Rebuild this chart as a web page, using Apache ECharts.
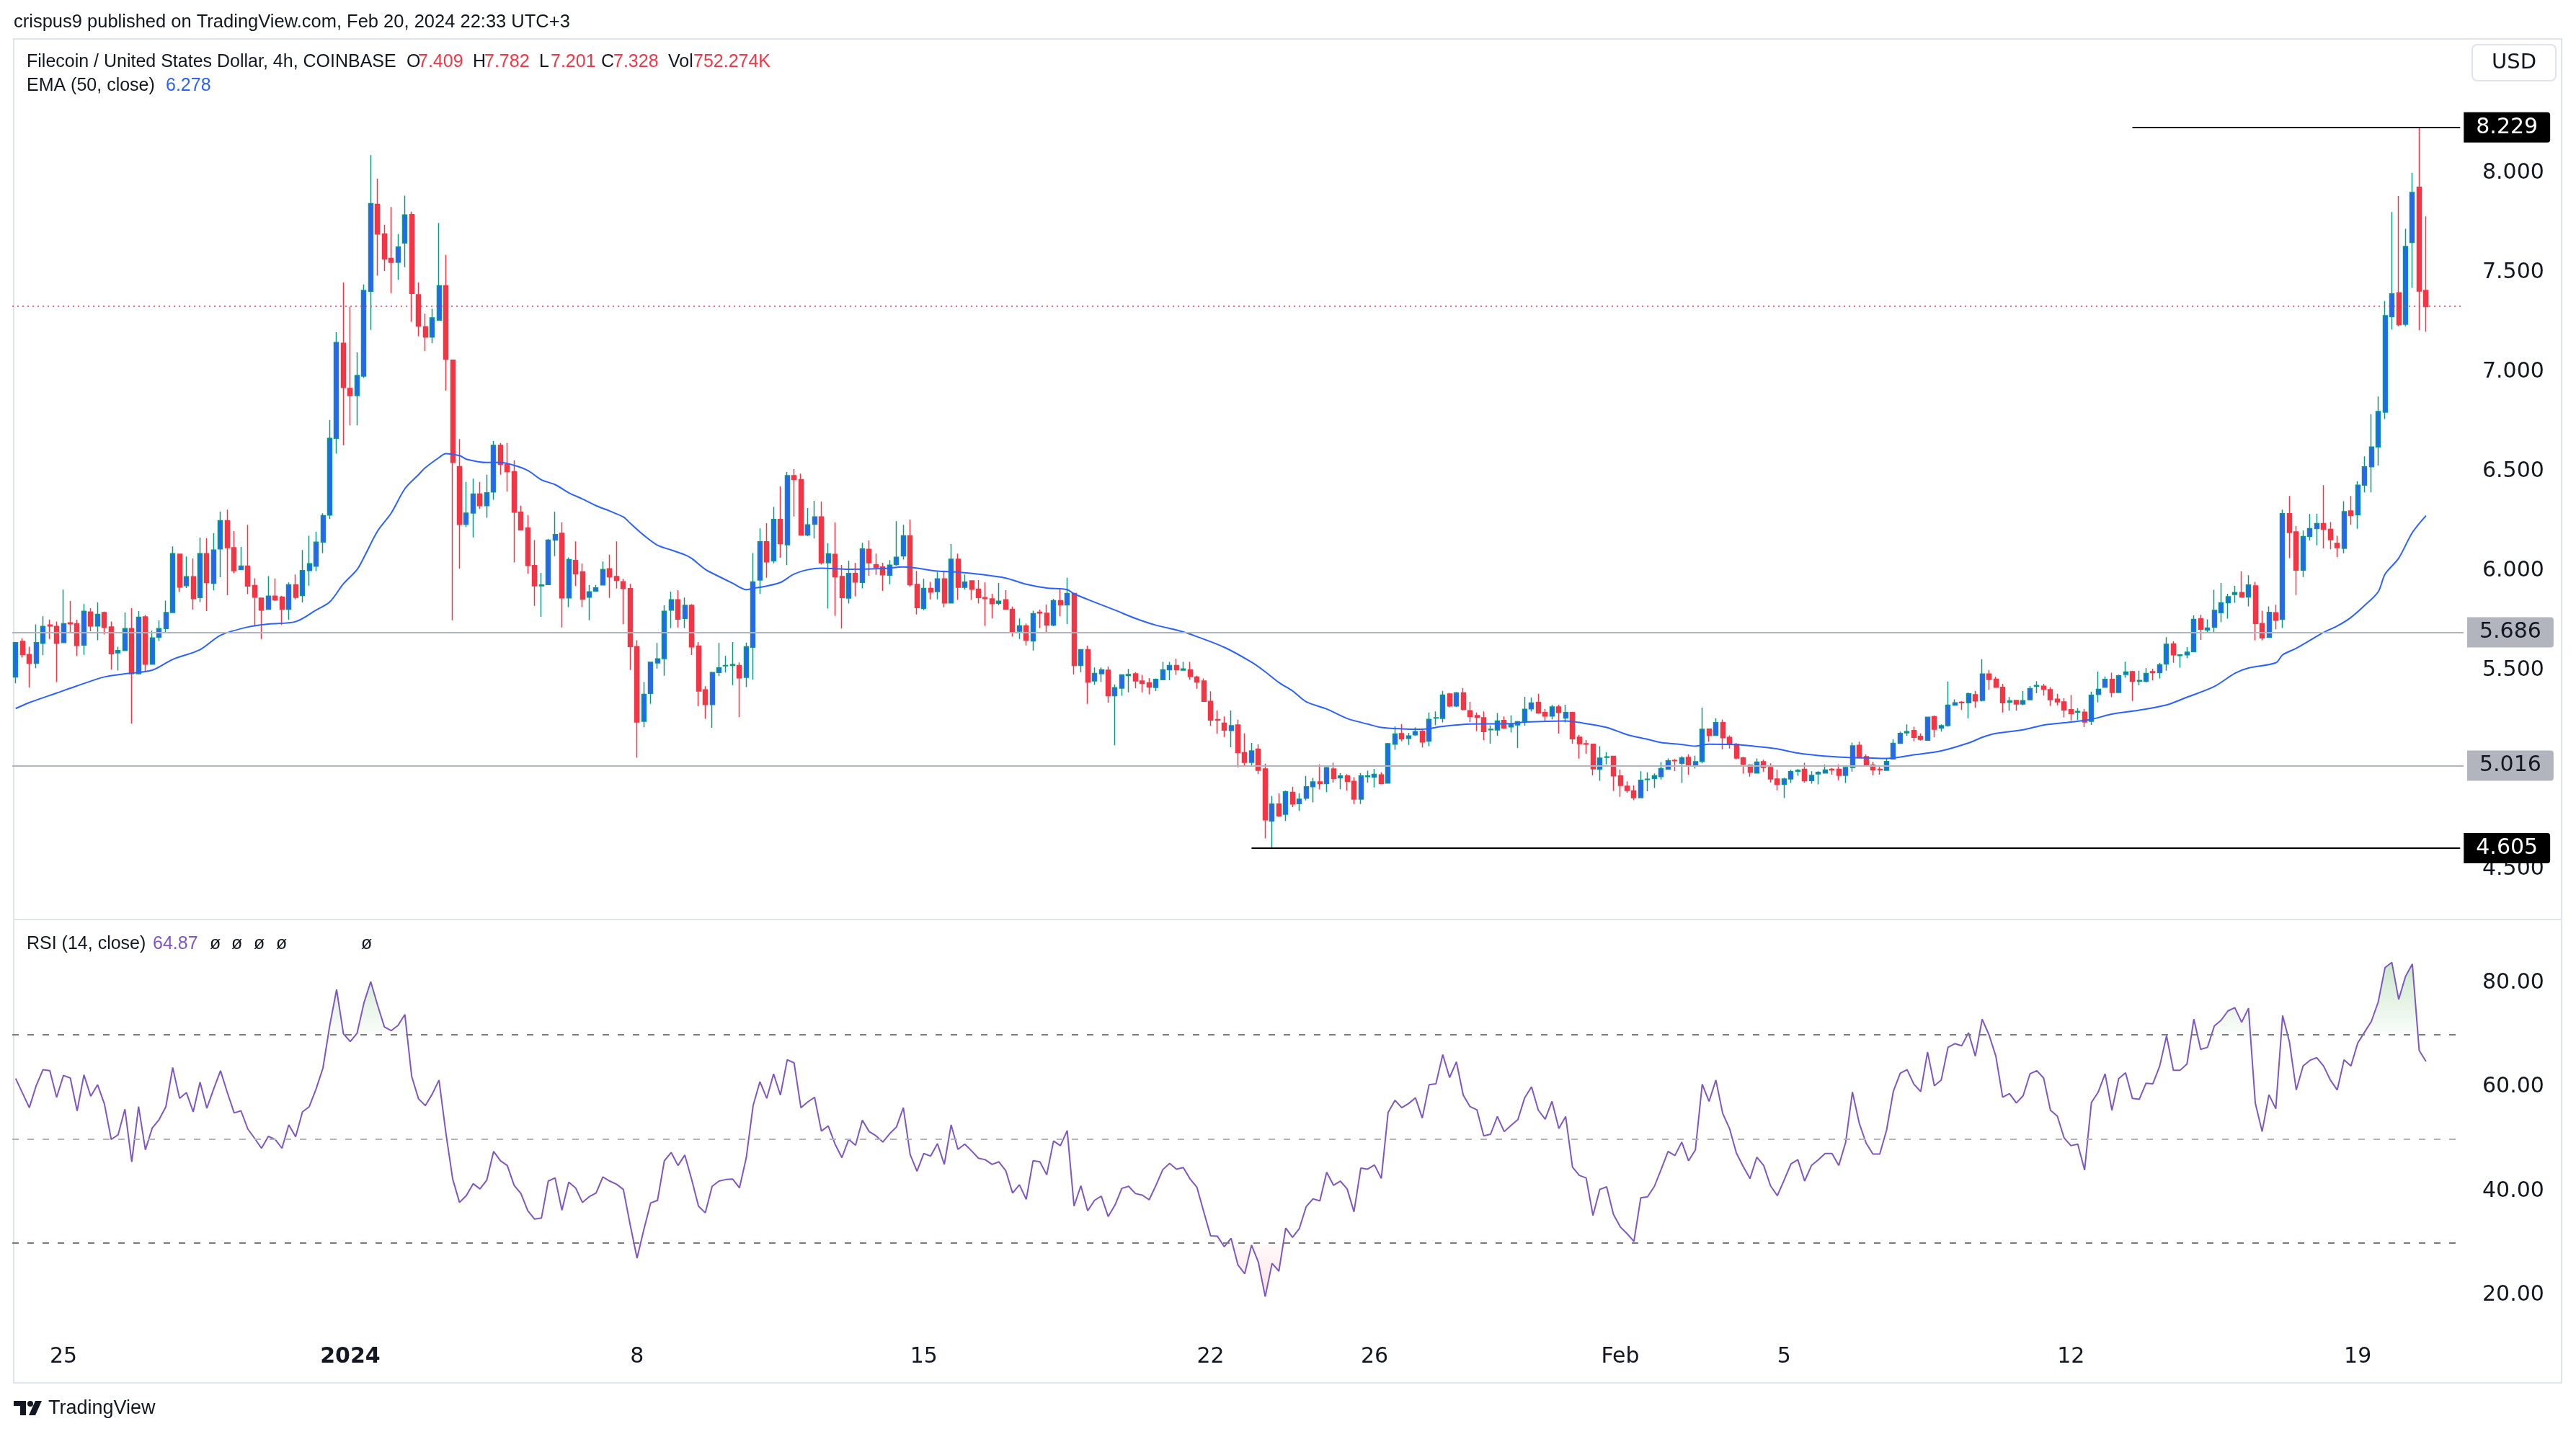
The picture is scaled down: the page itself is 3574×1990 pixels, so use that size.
<!DOCTYPE html>
<html><head><meta charset="utf-8">
<script src="https://cdn.jsdelivr.net/npm/echarts@6/dist/echarts.min.js"></script>
<style>html,body{margin:0;padding:0;background:#fff}#c{width:3574px;height:1990px}</style>
</head><body><div id="c"></div>
<script>
// ---- DATA ----
// 4h candles, [open, high, low, close]
const ohlc = [
[5.466,5.640,5.434,5.639],[5.645,5.659,5.563,5.579],[5.579,5.618,5.412,5.534],[5.534,5.730,5.510,5.639],[5.635,5.771,5.575,5.720],
[5.727,5.754,5.657,5.722],[5.720,5.745,5.440,5.635],[5.639,5.905,5.639,5.734],[5.738,5.848,5.690,5.733],[5.734,5.754,5.572,5.624],
[5.626,5.832,5.577,5.796],[5.793,5.812,5.696,5.722],[5.722,5.841,5.650,5.781],[5.790,5.794,5.679,5.715],[5.717,5.745,5.504,5.582],
[5.587,5.618,5.498,5.599],[5.599,5.790,5.599,5.709],[5.709,5.812,5.231,5.482],[5.482,5.797,5.482,5.766],[5.768,5.778,5.494,5.530],
[5.530,5.699,5.530,5.662],[5.666,5.750,5.647,5.709],[5.709,5.850,5.687,5.790],[5.790,6.122,5.790,6.086],[6.083,6.083,5.893,5.918],
[5.925,6.072,5.913,5.970],[5.970,6.062,5.804,5.860],[5.865,6.167,5.842,6.086],[6.086,6.164,5.797,5.940],[5.937,6.188,5.901,6.104],
[6.110,6.297,5.967,6.252],[6.252,6.307,5.877,6.116],[6.116,6.199,5.987,6.000],[6.005,6.120,6.005,6.024],[6.024,6.231,5.882,5.923],
[5.926,5.962,5.720,5.867],[5.862,5.862,5.657,5.802],[5.806,5.973,5.806,5.872],[5.872,5.961,5.848,5.853],[5.868,5.874,5.727,5.806],
[5.806,5.941,5.754,5.929],[5.929,5.981,5.856,5.866],[5.875,6.104,5.841,6.001],[6.001,6.176,5.925,6.035],[6.023,6.196,5.998,6.144],
[6.144,6.289,6.088,6.277],[6.280,6.758,6.260,6.666],[6.666,7.199,6.589,7.148],[7.144,7.449,6.630,6.921],[6.917,7.327,6.731,6.880],
[6.880,7.098,6.731,6.982],[6.978,7.439,6.969,7.409],[7.405,8.090,7.211,7.846],[7.842,7.972,7.484,7.693],[7.693,7.740,7.506,7.567],
[7.571,7.829,7.396,7.551],[7.551,7.693,7.463,7.628],[7.648,7.886,7.526,7.789],[7.791,7.805,7.252,7.394],[7.388,7.449,7.179,7.230],
[7.226,7.293,7.104,7.175],[7.175,7.317,7.144,7.272],[7.260,7.748,7.256,7.433],[7.433,7.588,6.906,7.063],[7.059,7.059,5.751,6.544],
[6.524,6.662,6.010,6.233],[6.233,6.447,6.219,6.290],[6.290,6.463,6.168,6.386],[6.386,6.447,6.311,6.327],[6.327,6.483,6.266,6.392],
[6.396,6.652,6.357,6.630],[6.630,6.642,6.483,6.534],[6.534,6.642,6.398,6.498],[6.498,6.555,6.042,6.294],[6.294,6.327,6.205,6.205],
[6.215,6.280,5.985,6.026],[6.026,6.154,5.823,5.924],[5.924,5.989,5.768,5.928],[5.930,6.160,5.928,6.154],[6.154,6.296,6.073,6.182],
[6.188,6.243,5.715,5.863],[5.863,6.067,5.817,6.056],[6.052,6.148,5.924,5.985],[5.995,6.036,5.817,5.857],[5.867,5.928,5.751,5.894],
[5.898,5.928,5.894,5.914],[5.928,6.046,5.928,6.006],[6.010,6.081,5.863,5.969],[5.971,6.148,5.910,5.951],[5.945,5.959,5.731,5.910],
[5.910,5.934,5.501,5.619],[5.619,5.650,5.060,5.239],[5.243,5.440,5.213,5.379],[5.383,5.540,5.331,5.540],[5.536,5.637,5.508,5.557],
[5.558,5.826,5.472,5.796],[5.802,5.895,5.711,5.854],[5.854,5.902,5.715,5.756],[5.760,5.865,5.711,5.826],[5.826,5.832,5.576,5.617],
[5.621,5.641,5.319,5.395],[5.401,5.419,5.255,5.327],[5.327,5.492,5.210,5.488],[5.488,5.637,5.470,5.512],[5.522,5.572,5.488,5.524],
[5.524,5.641,5.425,5.528],[5.524,5.539,5.264,5.461],[5.464,5.639,5.415,5.618],[5.615,6.089,5.452,5.944],[5.953,6.213,5.883,6.146],
[6.146,6.239,5.965,6.044],[6.050,6.321,6.037,6.258],[6.258,6.424,6.065,6.136],[6.130,6.496,6.028,6.478],[6.478,6.511,6.273,6.458],
[6.458,6.488,6.179,6.179],[6.179,6.315,6.173,6.231],[6.234,6.351,6.162,6.271],[6.271,6.348,6.031,6.040],[6.040,6.138,5.810,6.085],
[6.082,6.243,5.774,5.969],[5.971,6.029,5.709,5.865],[5.862,6.050,5.835,5.986],[5.986,6.040,5.871,5.943],[5.941,6.140,5.911,6.110],
[6.108,6.152,5.975,6.040],[6.031,6.086,5.979,6.016],[6.019,6.040,5.899,5.979],[5.977,6.053,5.932,6.028],[6.031,6.249,6.025,6.068],
[6.074,6.231,6.056,6.176],[6.176,6.257,5.920,5.929],[5.931,5.999,5.780,5.814],[5.810,5.959,5.802,5.911],[5.911,5.944,5.856,5.892],
[5.895,5.995,5.856,5.959],[5.959,6.001,5.816,5.838],[5.838,6.134,5.838,6.058],[6.058,6.086,5.853,5.917],[5.917,5.981,5.905,5.943],
[5.949,5.949,5.853,5.907],[5.908,5.953,5.835,5.865],[5.865,5.941,5.723,5.860],[5.859,5.884,5.760,5.834],[5.836,5.938,5.826,5.847],
[5.854,5.902,5.806,5.806],[5.806,5.820,5.669,5.693],[5.696,5.760,5.657,5.723],[5.723,5.735,5.624,5.651],[5.647,5.799,5.599,5.784],
[5.792,5.804,5.711,5.787],[5.786,5.830,5.685,5.726],[5.726,5.859,5.721,5.850],[5.850,5.913,5.772,5.828],[5.828,5.965,5.732,5.886],
[5.886,5.886,5.478,5.524],[5.524,5.603,5.490,5.603],[5.603,5.623,5.331,5.440],[5.446,5.514,5.427,5.484],[5.482,5.514,5.440,5.502],
[5.500,5.518,5.337,5.371],[5.371,5.428,5.122,5.412],[5.409,5.478,5.371,5.476],[5.473,5.506,5.389,5.478],[5.482,5.490,5.409,5.446],
[5.446,5.476,5.389,5.434],[5.437,5.460,5.379,5.415],[5.413,5.458,5.395,5.454],[5.452,5.542,5.449,5.502],[5.502,5.542,5.449,5.524],
[5.524,5.558,5.476,5.502],[5.500,5.542,5.497,5.506],[5.502,5.542,5.452,5.467],[5.466,5.473,5.407,5.440],[5.446,5.458,5.343,5.343],
[5.343,5.394,5.219,5.249],[5.252,5.297,5.180,5.249],[5.234,5.267,5.164,5.198],[5.197,5.297,5.112,5.221],[5.225,5.251,5.012,5.086],
[5.086,5.182,5.014,5.036],[5.036,5.134,5.020,5.094],[5.103,5.127,4.977,4.996],[5.004,5.030,4.654,4.747],[4.741,4.868,4.605,4.827],
[4.827,4.880,4.763,4.767],[4.775,4.895,4.742,4.889],[4.886,4.914,4.811,4.827],[4.829,4.881,4.793,4.851],[4.856,4.968,4.845,4.914],
[4.914,4.958,4.835,4.938],[4.938,5.026,4.901,4.929],[4.929,5.014,4.887,5.010],[5.004,5.034,4.935,4.956],[4.958,4.982,4.901,4.968],
[4.968,4.977,4.895,4.941],[4.941,4.962,4.827,4.851],[4.851,4.983,4.827,4.968],[4.965,4.995,4.935,4.968],[4.962,5.004,4.910,4.976],
[4.974,4.986,4.926,4.929],[4.932,5.134,4.932,5.130],[5.128,5.217,5.100,5.179],[5.181,5.229,5.143,5.155],[5.157,5.185,5.124,5.169],
[5.175,5.212,5.169,5.191],[5.193,5.199,5.111,5.139],[5.143,5.287,5.118,5.253],[5.259,5.293,5.223,5.261],[5.257,5.396,5.237,5.375],
[5.380,5.386,5.314,5.320],[5.320,5.390,5.314,5.386],[5.386,5.410,5.296,5.303],[5.296,5.341,5.239,5.267],[5.272,5.287,5.194,5.263],
[5.261,5.293,5.149,5.191],[5.200,5.223,5.130,5.203],[5.199,5.284,5.170,5.245],[5.247,5.267,5.205,5.209],[5.215,5.273,5.187,5.227],
[5.225,5.245,5.109,5.241],[5.243,5.366,5.221,5.303],[5.305,5.362,5.293,5.335],[5.338,5.381,5.281,5.284],[5.287,5.305,5.245,5.269],
[5.269,5.326,5.253,5.315],[5.315,5.326,5.181,5.287],[5.259,5.326,5.237,5.287],[5.287,5.291,5.130,5.155],[5.163,5.175,5.055,5.130],
[5.130,5.149,5.080,5.128],[5.128,5.128,4.971,5.004],[5.002,5.118,4.944,5.058],[5.062,5.088,5.026,5.064],[5.067,5.070,4.893,4.968],
[4.968,5.000,4.863,4.920],[4.917,4.941,4.883,4.895],[4.893,4.920,4.847,4.859],[4.859,4.992,4.859,4.947],[4.950,4.986,4.891,4.952],
[4.956,4.981,4.908,4.969],[4.965,5.038,4.950,5.005],[5.002,5.056,5.002,5.044],[5.046,5.053,4.993,5.044],[5.032,5.068,4.933,5.059],
[5.062,5.077,4.975,5.020],[5.020,5.070,5.005,5.040],[5.041,5.312,5.032,5.203],[5.204,5.204,5.140,5.172],[5.172,5.258,5.170,5.236],
[5.236,5.252,5.101,5.160],[5.162,5.172,5.106,5.126],[5.128,5.134,5.052,5.058],[5.059,5.064,4.980,5.026],[5.023,5.026,4.965,4.986],
[4.983,5.056,4.983,5.038],[5.040,5.050,4.990,5.011],[5.011,5.032,4.935,4.953],[4.953,4.999,4.896,4.926],[4.926,4.959,4.857,4.953],
[4.953,4.999,4.933,4.990],[4.992,5.004,4.969,4.996],[5.002,5.034,4.935,4.944],[4.945,4.992,4.929,4.971],[4.978,4.992,4.926,4.986],
[4.983,5.026,4.981,4.998],[5.002,5.008,4.975,4.998],[5.002,5.026,4.947,4.971],[4.971,5.020,4.933,5.011],[5.011,5.136,4.990,5.120],
[5.122,5.140,5.059,5.059],[5.065,5.076,5.020,5.020],[5.023,5.040,4.971,4.999],[5.002,5.020,4.975,4.999],[4.996,5.056,4.996,5.041],
[5.053,5.152,5.053,5.132],[5.132,5.191,5.132,5.182],[5.185,5.227,5.170,5.191],[5.197,5.216,5.142,5.162],[5.168,5.182,5.146,5.152],
[5.148,5.266,5.144,5.264],[5.266,5.272,5.162,5.203],[5.209,5.227,5.191,5.221],[5.221,5.443,5.216,5.324],[5.324,5.353,5.321,5.336],
[5.339,5.345,5.300,5.336],[5.336,5.389,5.258,5.381],[5.377,5.396,5.312,5.345],[5.348,5.555,5.342,5.481],[5.481,5.501,5.401,5.453],
[5.455,5.467,5.414,5.414],[5.414,5.431,5.287,5.336],[5.339,5.365,5.296,5.345],[5.348,5.348,5.296,5.330],[5.330,5.395,5.323,5.347],
[5.351,5.420,5.348,5.408],[5.419,5.445,5.384,5.423],[5.419,5.431,5.372,5.405],[5.402,5.414,5.321,5.351],[5.354,5.381,5.323,5.341],
[5.341,5.359,5.263,5.300],[5.302,5.375,5.246,5.282],[5.289,5.309,5.249,5.293],[5.289,5.305,5.214,5.239],[5.243,5.392,5.225,5.374],
[5.378,5.493,5.339,5.404],[5.414,5.468,5.412,5.454],[5.454,5.487,5.364,5.388],[5.388,5.478,5.388,5.472],[5.478,5.543,5.462,5.491],
[5.493,5.497,5.345,5.444],[5.444,5.497,5.424,5.448],[5.444,5.511,5.438,5.484],[5.493,5.507,5.448,5.487],[5.487,5.537,5.458,5.527],
[5.531,5.666,5.497,5.630],[5.632,5.646,5.537,5.577],[5.573,5.577,5.513,5.577],[5.577,5.616,5.561,5.591],[5.593,5.775,5.593,5.755],
[5.759,5.779,5.652,5.706],[5.702,5.755,5.690,5.712],[5.716,5.904,5.690,5.801],[5.789,5.938,5.741,5.839],[5.839,5.884,5.759,5.870],
[5.880,5.924,5.839,5.890],[5.890,5.997,5.864,5.868],[5.868,5.977,5.821,5.928],[5.924,5.944,5.650,5.735],[5.735,5.799,5.650,5.662],
[5.666,5.821,5.662,5.791],[5.789,5.829,5.706,5.751],[5.755,6.307,5.712,6.287],[6.287,6.376,6.063,6.192],[6.196,6.225,5.878,6.003],
[6.003,6.202,5.968,6.172],[6.172,6.285,6.152,6.212],[6.212,6.287,6.128,6.237],[6.237,6.430,6.112,6.208],[6.208,6.245,6.108,6.156],
[6.138,6.176,6.069,6.116],[6.112,6.350,6.087,6.297],[6.301,6.376,6.231,6.277],[6.281,6.450,6.211,6.430],[6.430,6.575,6.394,6.523],
[6.523,6.787,6.394,6.622],[6.622,6.876,6.529,6.801],[6.797,7.356,6.763,7.283],[7.277,7.803,7.213,7.392],[7.398,7.884,7.229,7.237],
[7.239,7.719,7.229,7.630],[7.650,8.001,7.422,7.902],[7.928,8.229,7.209,7.406],[7.409,7.782,7.201,7.328]
];

// EMA(50): [candle index, value]
const emaPoints = [
[0,5.307],[2,5.337],[6,5.385],[9,5.421],[13,5.466],[16,5.482],[20,5.500],[23,5.554],[27,5.603],[30,5.675],[34,5.717],[37,5.732],
[41,5.744],[44,5.802],[46,5.843],[48,5.934],[50,6.006],[51,6.067],[53,6.199],[55,6.290],[57,6.412],[59,6.483],[60,6.518],[62,6.569],
[63,6.589],[65,6.579],[66,6.561],[69,6.544],[71,6.544],[73,6.530],[75,6.504],[77,6.457],[79,6.433],[81,6.392],[83,6.361],[85,6.327],
[87,6.300],[89,6.270],[90,6.239],[92,6.178],[94,6.128],[96,6.104],[98,6.080],[99,6.062],[101,6.007],[103,5.971],[105,5.937],[107,5.905],
[108,5.911],[110,5.923],[112,5.941],[114,5.983],[116,6.005],[118,6.013],[122,6.007],[127,6.011],[130,6.019],[135,5.998],[138,5.993],
[141,5.983],[145,5.963],[148,5.932],[151,5.913],[154,5.905],[155,5.884],[158,5.842],[161,5.802],[164,5.760],[167,5.726],[170,5.702],
[172,5.681],[177,5.615],[181,5.540],[183,5.492],[185,5.438],[187,5.396],[189,5.341],[192,5.305],[195,5.257],[198,5.229],[200,5.212],
[203,5.205],[206,5.203],[209,5.217],[213,5.229],[219,5.231],[221,5.239],[227,5.245],[229,5.237],[233,5.212],[236,5.176],[239,5.152],
[241,5.136],[244,5.126],[246,5.118],[248,5.128],[252,5.126],[255,5.116],[258,5.104],[261,5.083],[264,5.071],[268,5.062],[271,5.059],
[274,5.056],[278,5.074],[282,5.094],[286,5.134],[288,5.162],[290,5.182],[294,5.200],[297,5.224],[301,5.239],[304,5.253],[307,5.279],
[311,5.299],[315,5.325],[318,5.364],[322,5.418],[325,5.484],[327,5.511],[331,5.537],[332,5.577],[334,5.610],[336,5.650],[338,5.690],
[340,5.722],[342,5.765],[344,5.825],[346,5.894],[347,5.983],[349,6.063],[351,6.192],[353,6.277]
];

// RSI(14) per candle
const rsi = [
61.6,58.8,56.0,60.2,63.3,63.1,58.0,62.2,61.7,55.4,62.3,58.2,60.4,56.7,49.9,50.8,55.7,45.6,56.2,47.9,
52.1,53.7,56.2,63.7,57.8,58.9,55.2,60.9,55.9,59.6,63.1,58.9,55.0,55.4,51.9,50.1,48.2,50.5,49.9,48.2,
52.7,50.4,55.2,56.2,59.6,63.6,71.8,78.7,70.2,68.7,70.3,76.1,80.2,75.7,71.5,70.8,71.8,73.9,62.0,57.7,
56.4,58.6,61.3,51.2,42.3,37.8,39.1,41.4,40.4,42.1,47.6,45.8,44.9,41.1,39.5,36.2,34.6,34.8,41.9,42.5,
36.3,41.7,40.6,37.8,38.9,39.6,42.7,41.9,41.3,40.3,33.5,27.1,32.6,37.7,38.2,45.8,47.4,44.9,46.9,42.2,
37.1,35.8,40.9,41.9,42.2,42.3,40.6,46.4,56.4,61.0,57.8,62.5,58.4,65.2,64.6,56.0,57.1,58.0,51.5,52.5,
49.0,46.4,49.9,48.8,53.6,51.4,50.6,49.4,51.0,52.3,
56.0,47.0,43.8,47.2,46.7,49.1,45.1,52.7,48.0,49.0,47.7,46.3,46.0,45.1,45.6,43.9,39.6,41.2,38.4,45.8,
45.6,43.1,49.6,48.7,51.6,37.1,41.0,36.2,38.2,39.0,35.1,37.3,40.5,40.9,39.5,39.2,38.3,41.1,44.1,45.3,
44.2,44.5,42.3,40.7,36.0,31.4,31.3,29.3,30.9,25.8,24.1,29.6,26.3,19.7,26.1,24.6,32.9,31.1,32.8,37.0,
38.5,38.1,43.6,41.1,41.9,40.4,36.0,44.4,44.2,45.0,42.4,55.1,57.4,56.0,56.8,57.9,54.0,60.4,60.6,66.2,
61.8,64.8,58.4,56.2,55.6,50.6,50.9,54.3,51.4,52.6,53.7,57.9,60.0,55.5,53.8,57.2,52.0,54.3,44.6,43.0,
42.5,35.3,40.3,40.8,35.5,33.1,31.8,30.3,38.7,38.9,40.9,44.2,47.6,46.8,49.4,45.8,47.9,60.5,57.2,61.3,
54.9,52.0,47.3,44.7,42.4,46.5,44.9,41.0,39.1,42.1,45.2,46.0,41.9,44.9,46.0,47.2,47.2,44.9,49.3,59.0,
53.0,49.2,47.1,47.1,51.7,59.2,62.6,63.3,60.5,59.1,66.7,60.2,61.3,67.6,68.3,67.9,70.4,65.9,73.0,70.0,
65.9,58.0,58.7,56.9,58.3,62.5,63.1,61.7,55.5,54.4,50.2,48.7,49.0,44.0,57.0,59.0,62.5,55.5,61.6,62.7,
57.8,57.6,60.7,60.6,64.0,69.8,63.2,63.2,64.4,73.0,67.2,67.6,71.7,72.8,74.6,75.2,72.4,75.1,56.9,51.4,
58.5,55.8,73.7,68.6,59.4,64.0,65.1,65.6,64.0,61.3,59.4,65.2,64.0,68.4,70.5,72.6,76.3,82.9,83.9,76.8,
81.2,83.6,67.0,64.87
];

// Horizontal levels
const levels = { high: 8.229, last: 7.328, res1: 5.686, res2: 5.016, low: 4.605 };
const highStart = 310, lowStart = 181;

// Time categories (4h bars) and date tick labels
const startTime = Date.UTC(2023, 11, 23, 20, 0);
const nSlots = 359;
const categories = [];
for (let i = 0; i < nSlots; i++) {
  const d = new Date(startTime + i * 4 * 3600 * 1000);
  categories.push(d.toISOString().slice(0, 16).replace('T', ' '));
}
const tickLabels = [
  ['2023-12-25 00:00', '25'], ['2024-01-01 00:00', '2024'], ['2024-01-08 00:00', '8'],
  ['2024-01-15 00:00', '15'], ['2024-01-22 00:00', '22'], ['2024-01-26 00:00', '26'],
  ['2024-02-01 00:00', 'Feb'], ['2024-02-05 00:00', '5'], ['2024-02-12 00:00', '12'],
  ['2024-02-19 00:00', '19']
];
const tickMap = new Map(tickLabels);

// ---- CHART ----
const chart = echarts.init(document.getElementById('c'), null, { renderer: 'canvas', width: 3574, height: 1990 });

const AX_FONT = 'DejaVu Sans';
const TX_FONT = '"Liberation Sans", Arial, sans-serif';
const DARK = '#131722';

const candleData = ohlc.map(r => [r[0], r[3], r[2], r[1]]);
const emaData = emaPoints.map(p => [categories[p[0]], p[1]]);
const obData = rsi.map(v => Math.max(v, 70));
const osData = rsi.map(v => Math.min(v, 30));

function badge(bg, fg) {
  return {
    show: true, position: 'end', distance: 5,
    backgroundColor: bg, color: fg, fontSize: 30, fontFamily: AX_FONT,
    padding: [7, 17, 5, 17], borderRadius: [0, 4, 4, 0]
  };
}

function txt(x, y, text, color, size, extra) {
  return Object.assign({
    type: 'text', x: x, y: y, silent: true,
    style: { text: text, fill: color || DARK, font: (size || 25) + 'px ' + TX_FONT, verticalAlign: 'middle', align: 'left' }
  }, extra || {});
}

const option = {
  animation: false,
  backgroundColor: '#ffffff',
  grid: [
    { left: 17, right: 156, top: 102, height: 1242 },
    { left: 17, right: 156, top: 1219.25, height: 722.5 }
  ],
  xAxis: [
    { type: 'category', gridIndex: 0, data: categories, boundaryGap: true,
      axisLine: { show: false }, axisTick: { show: false }, axisLabel: { show: false }, splitLine: { show: false } },
    { type: 'category', gridIndex: 1, data: categories, boundaryGap: true,
      axisLine: { show: false }, axisTick: { show: false }, splitLine: { show: false },
      axisLabel: {
        show: true,
        interval: (idx, val) => tickMap.has(val),
        formatter: (val) => { const t = tickMap.get(val) || ''; return t === '2024' ? '{b|2024}' : t; },
        margin: -59, verticalAlign: 'middle',
        fontSize: 30, fontFamily: AX_FONT, color: DARK,
        rich: { b: { fontSize: 30, fontFamily: AX_FONT, fontWeight: 'bold', color: DARK } }
      } }
  ],
  yAxis: [
    { type: 'value', gridIndex: 0, position: 'right', min: 4, max: 8.5, interval: 0.5,
      axisLine: { show: false }, axisTick: { show: false }, splitLine: { show: false },
      axisLabel: { margin: 26, fontSize: 30, fontFamily: AX_FONT, color: DARK,
        formatter: v => (v < 4.25 || v > 8.25) ? '' : v.toFixed(3) } },
    { type: 'value', gridIndex: 1, position: 'right', min: 0, max: 100, interval: 20,
      axisLine: { show: false }, axisTick: { show: false }, splitLine: { show: false },
      axisLabel: { margin: 26, fontSize: 30, fontFamily: AX_FONT, color: DARK,
        formatter: v => (v === 0 || v === 100) ? '' : v.toFixed(2) } }
  ],
  series: [
    {
      name: 'FIL/USD', type: 'candlestick', xAxisIndex: 0, yAxisIndex: 0,
      data: candleData, barWidth: 6.5, z: 3,
      itemStyle: { color: '#2962ff', color0: '#f23645', borderColor: '#089981', borderColor0: '#f23645', borderWidth: 1.5 },
      markLine: {
        silent: true, symbol: ['none', 'none'], animation: false,
        data: [
          { yAxis: levels.last, lineStyle: { color: '#f23645', type: [2, 5], width: 1.5 }, label: { show: false } },
          { yAxis: levels.res1, lineStyle: { color: '#b2b5be', type: 'solid', width: 2 }, label: Object.assign(badge('#b2b5be', DARK), { formatter: levels.res1.toFixed(3) }) },
          { yAxis: levels.res2, lineStyle: { color: '#b2b5be', type: 'solid', width: 2 }, label: Object.assign(badge('#b2b5be', DARK), { formatter: levels.res2.toFixed(3) }) },
          [
            { coord: [categories[highStart], levels.high], lineStyle: { color: '#000000', type: 'solid', width: 2 }, label: Object.assign(badge('#000000', '#ffffff'), { formatter: levels.high.toFixed(3) }) },
            { coord: [categories[nSlots - 1], levels.high] }
          ],
          [
            { coord: [categories[lowStart], levels.low], lineStyle: { color: '#000000', type: 'solid', width: 2 }, label: Object.assign(badge('#000000', '#ffffff'), { formatter: levels.low.toFixed(3) }) },
            { coord: [categories[nSlots - 1], levels.low] }
          ]
        ]
      }
    },
    {
      name: 'EMA 50', type: 'line', xAxisIndex: 0, yAxisIndex: 0, data: emaData,
      symbol: 'none', smooth: 0.3, z: 4, lineStyle: { color: '#2962ff', width: 2 }
    },
    {
      name: 'RSI OB', type: 'line', xAxisIndex: 1, yAxisIndex: 1, data: obData,
      symbol: 'none', z: 1, lineStyle: { width: 0, opacity: 0 },
      areaStyle: { origin: 70, color: new echarts.graphic.LinearGradient(0, 0, 0, 1, [
        { offset: 0, color: 'rgba(76,175,80,0.42)' }, { offset: 1, color: 'rgba(76,175,80,0.03)' }]) }
    },
    {
      name: 'RSI OS', type: 'line', xAxisIndex: 1, yAxisIndex: 1, data: osData,
      symbol: 'none', z: 1, lineStyle: { width: 0, opacity: 0 },
      areaStyle: { origin: 30, color: new echarts.graphic.LinearGradient(0, 0, 0, 1, [
        { offset: 0, color: 'rgba(242,54,69,0.03)' }, { offset: 1, color: 'rgba(242,54,69,0.22)' }]) }
    },
    {
      name: 'RSI', type: 'line', xAxisIndex: 1, yAxisIndex: 1, data: rsi,
      symbol: 'none', z: 3, lineStyle: { color: '#7e57c2', width: 2 },
      markLine: {
        silent: true, symbol: ['none', 'none'], animation: false, label: { show: false },
        data: [
          { yAxis: 70, lineStyle: { color: '#787b86', type: [9, 12], width: 2 } },
          { yAxis: 50, lineStyle: { color: '#b2b5be', type: [9, 12], width: 2 } },
          { yAxis: 30, lineStyle: { color: '#787b86', type: [9, 12], width: 2 } }
        ]
      }
    }
  ],
  graphic: { elements: [
    { type: 'rect', silent: true, z: -10, shape: { x: 19, y: 54, width: 3535, height: 1865 }, style: { fill: 'none', stroke: '#e0e3eb', lineWidth: 2 } },
    { type: 'line', silent: true, shape: { x1: 19, y1: 1276, x2: 3554, y2: 1276 }, style: { stroke: '#e0e3eb', lineWidth: 2 } },
    txt(19, 31, 'crispus9 published on TradingView.com, Feb 20, 2024 22:33 UTC+3', DARK, 25.5),
    txt(37, 86, 'Filecoin / United States Dollar, 4h, COINBASE', DARK, 25),
    txt(564, 86, 'O', DARK, 25), txt(580, 86, '7.409', '#f23645', 25),
    txt(656, 86, 'H', DARK, 25), txt(672, 86, '7.782', '#f23645', 25),
    txt(748, 86, 'L', DARK, 25), txt(764, 86, '7.201', '#f23645', 25),
    txt(834, 86, 'C', DARK, 25), txt(851, 86, '7.328', '#f23645', 25),
    txt(927, 86, 'Vol', DARK, 25), txt(962, 86, '752.274K', '#f23645', 25),
    txt(37, 119, 'EMA (50, close)', DARK, 25), txt(230, 119, '6.278', '#2962ff', 25),
    txt(37, 1310, 'RSI (14, close)', DARK, 25), txt(212, 1310, '64.87', '#7e57c2', 25),
    txt(291, 1310, 'ø', DARK, 25), txt(321, 1310, 'ø', DARK, 25), txt(352, 1310, 'ø', DARK, 25), txt(383, 1310, 'ø', DARK, 25),
    txt(501, 1310, 'ø', DARK, 25),
    { type: 'rect', silent: true, shape: { x: 3430, y: 62, width: 116, height: 50, r: 7 }, style: { fill: '#ffffff', stroke: '#e0e3eb', lineWidth: 2 } },
    { type: 'text', silent: true, x: 3488, y: 87, style: { text: 'USD', fill: DARK, font: '29px "DejaVu Sans"', align: 'center', verticalAlign: 'middle' } },
    { type: 'polygon', silent: true, shape: { points: [[19,1944],[36,1944],[36,1964],[28,1964],[28,1951],[19,1951]] }, style: { fill: DARK } },
    { type: 'circle', silent: true, shape: { cx: 42, cy: 1948, r: 4 }, style: { fill: DARK } },
    { type: 'polygon', silent: true, shape: { points: [[49,1944],[58,1944],[49,1964],[40,1964]] }, style: { fill: DARK } },
    txt(67, 1955, 'TradingView', DARK, 27)
  ] }
};

chart.setOption(option);
</script></body></html>
